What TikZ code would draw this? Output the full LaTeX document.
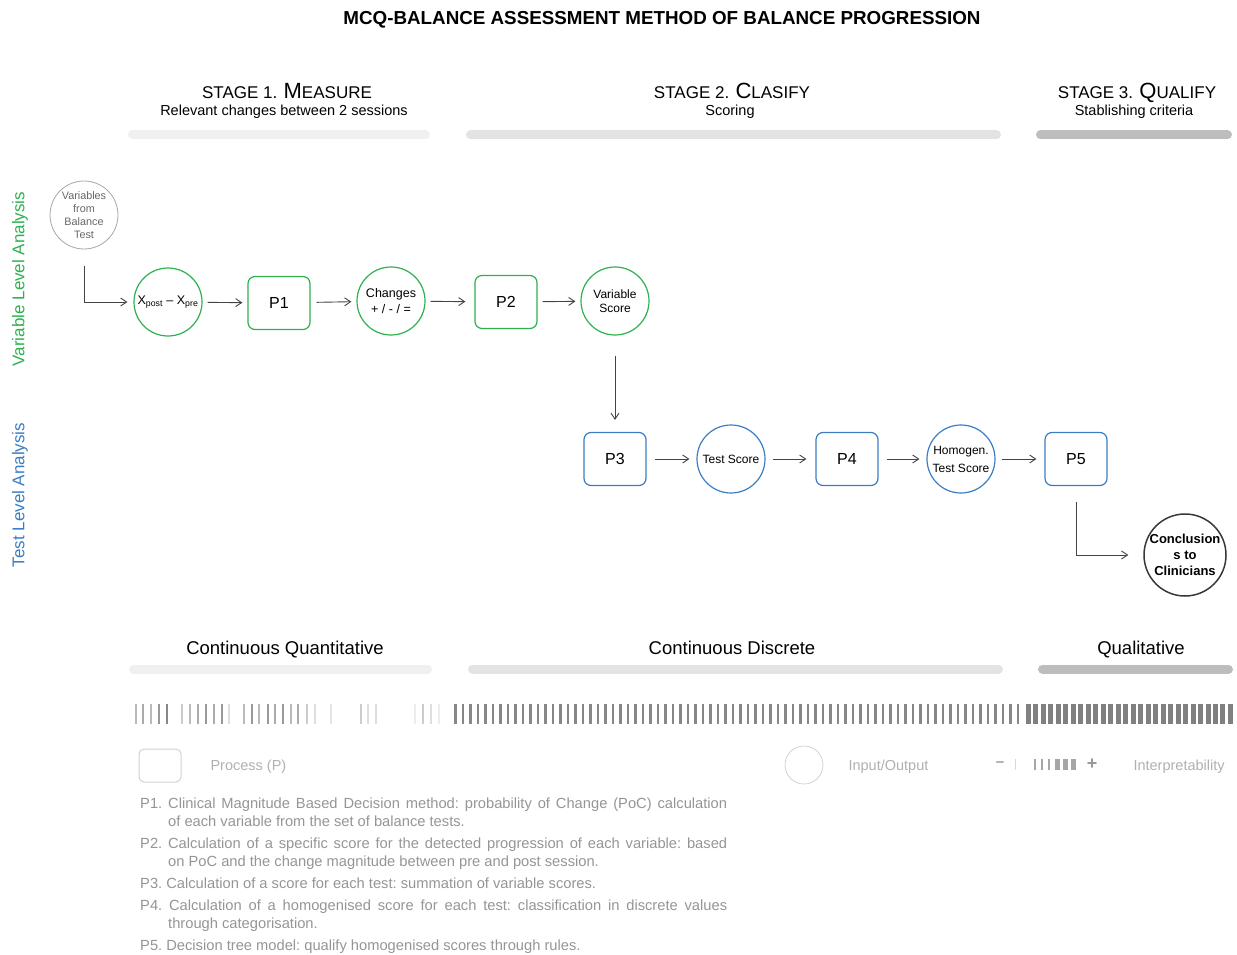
\documentclass[tikz,border=0pt]{standalone}
\usepackage{fontspec}
\setmainfont{Liberation Sans}
\usetikzlibrary{arrows.meta}
\definecolor{vargreen}{HTML}{2DB14F}
\definecolor{testblue}{HTML}{3A7DC4}
\definecolor{arrowgrey}{HTML}{444444}
\definecolor{notegrey}{HTML}{959595}
\definecolor{leggrey}{HTML}{B0B0B0}
\newcommand{\fs}[1]{\fontsize{#1}{#1}\selectfont}

\begin{document}
\begin{tikzpicture}[x=1pt,y=-1pt,
    proc/.style={draw,rounded corners=7pt,line width=1.2pt,minimum width=62pt,minimum height=53pt,font=\fs{16}},
    io/.style={draw,circle,line width=1.2pt,minimum size=68pt,inner sep=0pt,align=center},
    flow/.style={draw=arrowgrey,line width=0.9pt,-{Straight Barb[length=6pt,width=8pt]}},
    stagebar/.style={line width=9pt,line cap=round}]
\useasboundingbox (0,0) rectangle (1237,955);

% title and stages
\node[anchor=base,font=\bfseries\fs{18.8}] (title) at (662,25) {MCQ-BALANCE ASSESSMENT METHOD OF BALANCE PROGRESSION};
\node[anchor=base] (st1) at (287,99) {\fs{17}STAGE 1. {\fs{22}M}EASURE};
\node[anchor=base,font=\fs{14.5}] (st1sub) at (284,116) {Relevant changes between 2 sessions};
\node[anchor=base] (st2) at (732,99) {\fs{17}STAGE 2. {\fs{22}C}LASIFY};
\node[anchor=base,font=\fs{14.5}] (st2sub) at (730,116) {Scoring};
\node[anchor=base] (st3) at (1137,99) {\fs{17}STAGE 3. {\fs{22}Q}UALIFY};
\node[anchor=base,font=\fs{14.5}] (st3sub) at (1134,116) {Stablishing criteria};
\draw[stagebar,black!6] (132.5,135) -- (425.5,135);
\draw[stagebar,black!11] (470.5,135) -- (996.5,135);
\draw[stagebar,black!26] (1040.5,135) -- (1227.5,135);

% level labels
\node[rotate=90,text=vargreen,font=\fs{17}] (varlevel) at (20,279) {Variable Level Analysis};
\node[rotate=90,text=testblue,font=\fs{17}] (testlevel) at (20,495) {Test Level Analysis};

% variable level
\node[io,draw=black!35,line width=0.8pt,text=black!60,font=\fs{10.8}] (vars) at (84,215) {Variables\\[2pt]from\\[2pt]Balance\\[2pt]Test};
\node[io,draw=vargreen,font=\fs{12.5}] (diff) at (168,302) {X\textsubscript{post} -- X\textsubscript{pre}};
\node[proc,draw=vargreen] (p1) at (279,303) {P1};
\node[io,draw=vargreen,font=\fs{12.5}] (changes) at (391,301) {Changes\\[3pt]+ / - / =};
\node[io,draw=vargreen,font=\fs{12}] (vscore) at (615,301) {Variable\\[2pt]Score};
\node[proc,draw=vargreen] (p2) at (506,302) {P2};

% test level
\node[proc,draw=testblue] (p3) at (615,459) {P3};
\node[io,draw=testblue,font=\fs{12}] (tscore) at (731,459) {Test Score};
\node[proc,draw=testblue] (p4) at (847,459) {P4};
\node[io,draw=testblue,font=\fs{12}] (htscore) at (961,459) {Homogen.\\[6pt]Test Score};
\node[proc,draw=testblue] (p5) at (1076,459) {P5};
\node[io,draw=black!78,line width=1.5pt,minimum size=82pt,inner sep=-3pt,font=\bfseries\fs{13}] (concl) at (1185,555) {Conclusion\\[3pt]s to\\[3pt]Clinicians};

\draw[flow] ([yshift=-17pt]vars.south) |- ([xshift=-6pt]diff.west);
\draw[flow,shorten <=5pt,shorten >=5pt] (diff) -- (p1);
\draw[flow,shorten <=6pt,shorten >=5pt] (p1) -- (changes);
\draw[flow,shorten <=5pt,shorten >=9pt] (changes) -- (p2);
\draw[flow,shorten <=5pt,shorten >=5pt] (p2) -- (vscore);
\draw[flow] ([yshift=-20pt]vscore.south) -- ([yshift=12pt]p3.north);
\draw[flow,shorten <=8pt,shorten >=7pt] (p3) -- (tscore);
\draw[flow,shorten <=7pt,shorten >=9pt] (tscore) -- (p4);
\draw[flow,shorten <=8pt,shorten >=7pt] (p4) -- (htscore);
\draw[flow,shorten <=6pt,shorten >=8pt] (htscore) -- (p5);
\draw[flow] ([yshift=-16pt]p5.south) |- ([xshift=-15pt]concl.west);

% data types
\node[anchor=base,font=\fs{18.5}] (quant) at (285,654) {Continuous Quantitative};
\node[anchor=base,font=\fs{18.5}] (discr) at (732,654) {Continuous Discrete};
\node[anchor=base,font=\fs{18.5}] (qual) at (1141,654) {Qualitative};
\draw[stagebar,black!6] (133.5,669) -- (427.5,669);
\draw[stagebar,black!11] (472.5,669) -- (998.5,669);
\draw[stagebar,black!26] (1042.5,669) -- (1228.5,669);

% interpretability bars
\foreach \x/\g in {136/27,143/33,151/27,159/40,167/47,182/20,190/27,198/33,206/40,214/33,222/40,229/13,
    244/27,252/40,259/27,268/40,275/33,283/40,291/27,298/33,307/20,315/13,331/10,361/20,368/13,376/13,
    415/7,423/20,431/13,439/7}
    \draw[line width=1.3pt,black!\g] (\x,704) -- (\x,724);
\foreach \i in {0,...,75}
    \draw[line width=2.7pt,black!47] ({455.5+7.5*\i},704) -- ++(0,20);
\foreach \i in {0,...,27}
    \draw[line width=5pt,black!50] ({1028.5+7.48*\i},704) -- ++(0,20);

% legend
\node[draw=black!18,line width=1pt,rounded corners=5pt,minimum width=42pt,minimum height=33pt] (legproc) at (160,765.5) {};
\node[anchor=west,text=leggrey,font=\fs{14.5}] (legproctxt) at (207,767) {Process (P)};
\node[draw=black!22,circle,line width=0.6pt,minimum size=38pt,inner sep=0pt] (legio) at (804,765) {};
\node[anchor=west,text=leggrey,font=\fs{14.5}] (legiotxt) at (845,767) {Input/Output};
\node[text=black!40,font=\bfseries\fs{15}] (legminus) at (1000,764) {–};
\draw[line width=0.6pt,black!15] (1015,759) -- (1015,770);
\foreach \x in {1035,1042,1049}
    \draw[line width=2.4pt,black!35] (\x,759) -- (\x,770);
\foreach \x in {1057,1065,1073}
    \draw[line width=5pt,black!35] (\x,759) -- (\x,770);
\node[text=black!40,font=\bfseries\fs{18}] (legplus) at (1092,764) {+};
\node[anchor=west,text=leggrey,font=\fs{14.5}] (leginterp) at (1130,767) {Interpretability};

% process notes
\node[anchor=north west,inner sep=0pt,text width=587pt,align=justify,text=notegrey,font=\fs{14.7}] (notes) at (140,797.5) {%
    \frenchspacing\baselineskip=18pt\parskip=4pt\hyphenpenalty=10000\parindent=0pt
    \hangindent=28pt\hangafter=1 P1. Clinical Magnitude Based Decision method: probability of Change (PoC) calculation\linebreak of each variable from the set of balance tests.\par
    \hangindent=28pt\hangafter=1 P2. Calculation of a specific score for the detected progression of each variable: based\linebreak on PoC and the change magnitude between pre and post session.\par
    P3. Calculation of a score for each test: summation of variable scores.\par
    \hangindent=28pt\hangafter=1 P4. Calculation of a homogenised score for each test: classification in discrete values\linebreak through categorisation.\par
    P5. Decision tree model: qualify homogenised scores through rules.\par};

\end{tikzpicture}
\end{document}
